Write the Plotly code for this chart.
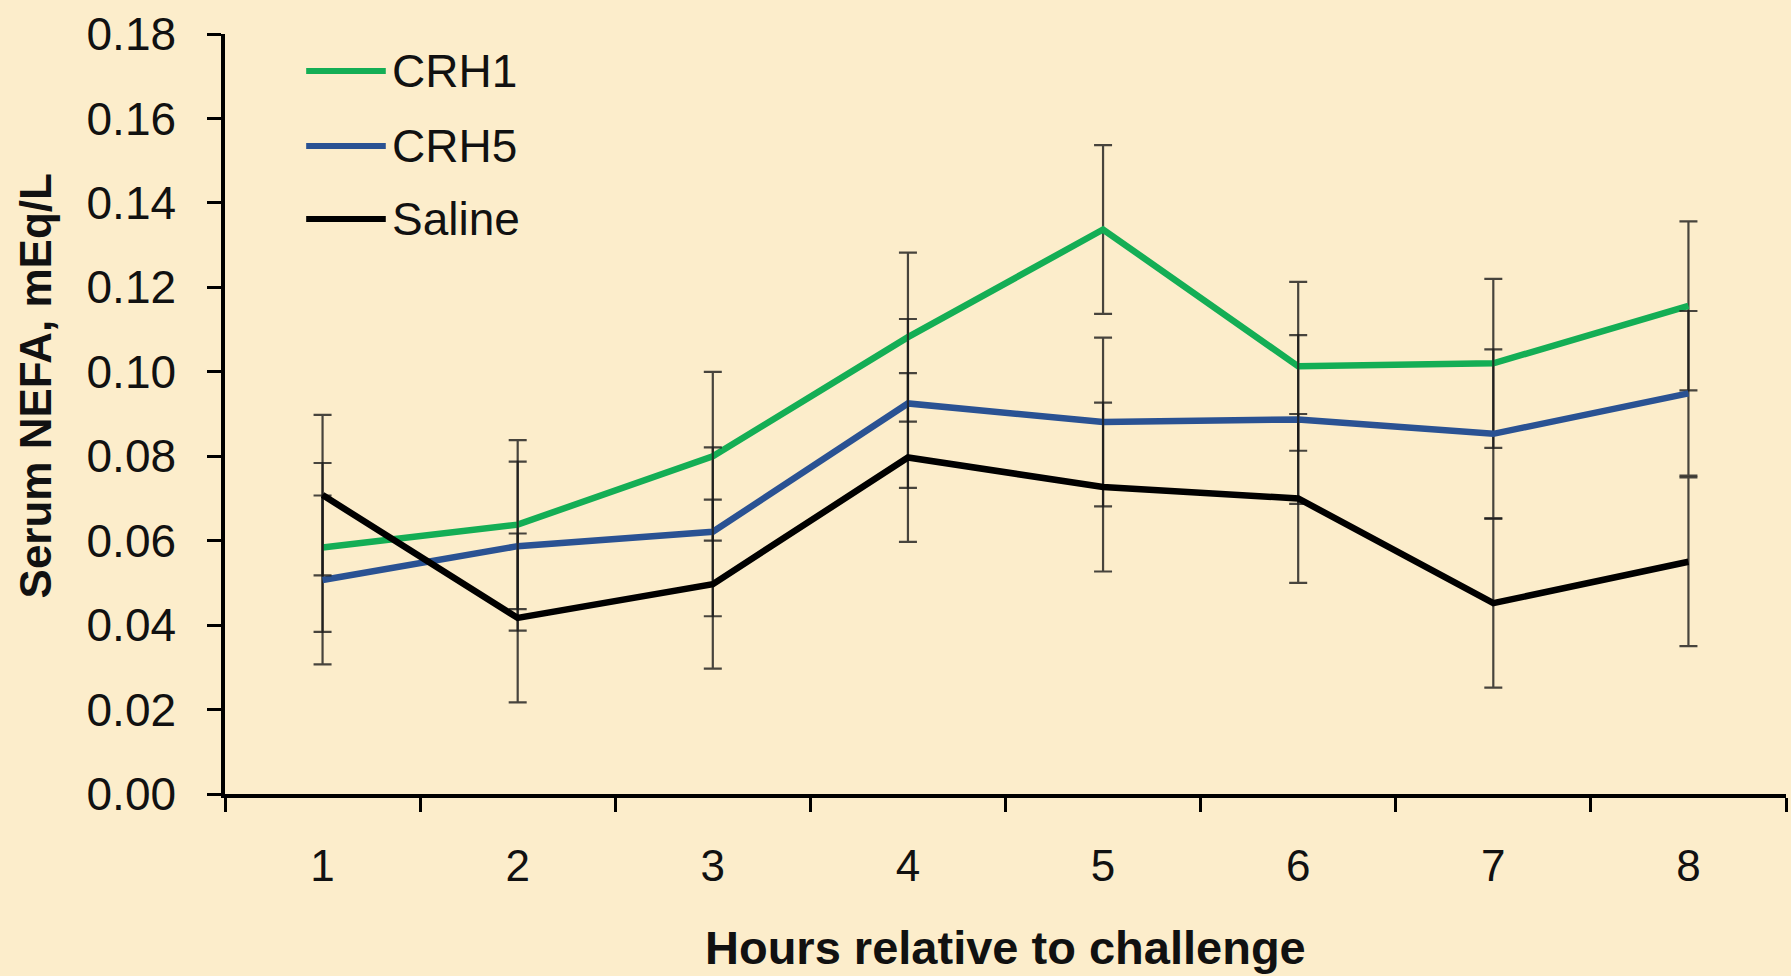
import plotly.graph_objects as go

hours = ["1", "2", "3", "4", "5", "6", "7", "8"]
y_ticks = [0.00, 0.02, 0.04, 0.06, 0.08, 0.10, 0.12, 0.14, 0.16, 0.18]

crh1 = [0.0584, 0.0638, 0.0800, 0.1082, 0.1337, 0.1013, 0.1020, 0.1156]
crh1_se = [0.020, 0.020, 0.020, 0.020, 0.020, 0.020, 0.020, 0.020]
crh5 = [0.0507, 0.0587, 0.0621, 0.0925, 0.0881, 0.0887, 0.0853, 0.0949]
crh5_se = [0.020, 0.020, 0.020, 0.020, 0.020, 0.020, 0.020, 0.0195]
saline = [0.0708, 0.0417, 0.0497, 0.0797, 0.0727, 0.0700, 0.0452, 0.0550]
saline_se = [0.019, 0.020, 0.020, 0.020, 0.020, 0.020, 0.020, 0.020]

series_names = ["CRH1", "CRH5", "Saline"]
series_colors = ["#14AE55", "#2A5293", "#000000"]

BG = "#FCEDCB"
FONT = "Liberation Sans, Arial, sans-serif"

fig = go.Figure()
for name, vals, se, col in zip(series_names, [crh1, crh5, saline],
                               [crh1_se, crh5_se, saline_se], series_colors):
    fig.add_trace(go.Scatter(
        x=hours, y=vals, name=name, mode="lines",
        line=dict(color=col, width=6.5),
        error_y=dict(type="data", array=se, visible=True,
                     color="rgba(25,25,25,0.8)", thickness=2.2, width=9),
        showlegend=False,
    ))

# manual legend (line sample + text)
leg_y = [0.9513, 0.8526, 0.7566]
for name, col, yy in zip(series_names, series_colors, leg_y):
    fig.add_shape(type="line", xref="paper", yref="paper",
                  x0=0.052, x1=0.103, y0=yy, y1=yy,
                  line=dict(color=col, width=6))
    fig.add_annotation(xref="paper", yref="paper", x=0.106, y=yy,
                       text=name, showarrow=False, xanchor="left",
                       yanchor="middle",
                       font=dict(family=FONT, size=46, color="#111111"))

fig.add_annotation(xref="paper", yref="paper", x=0.5, y=-0.2026,
                   text="<b>Hours relative to challenge</b>", showarrow=False,
                   xanchor="center", yanchor="middle",
                   font=dict(family=FONT, size=47, color="#111111"))
fig.add_annotation(xref="paper", yref="paper", x=-0.1211, y=0.5375,
                   text="<b>Serum NEFA, mEq/L</b>", showarrow=False,
                   textangle=-90, xanchor="center", yanchor="middle",
                   font=dict(family=FONT, size=44, color="#111111"))

fig.update_layout(
    width=1791, height=976,
    margin=dict(l=225, r=5, t=34, b=182),
    paper_bgcolor=BG, plot_bgcolor=BG,
    font=dict(family=FONT, size=46, color="#111111"),
    xaxis=dict(type="category", range=[-0.5, 7.5], tickson="boundaries",
               ticks="outside", ticklen=14, tickwidth=3, tickcolor="#000",
               showline=True, linecolor="#000", linewidth=3.5,
               showgrid=False, zeroline=False, ticklabelstandoff=30,
               automargin=False,
               tickfont=dict(family=FONT, size=44)),
    yaxis=dict(range=[0, 0.18], tickvals=y_ticks, tickformat=".2f",
               ticks="outside", ticklen=14, tickwidth=3, tickcolor="#000",
               showline=True, linecolor="#000", linewidth=3.5,
               showgrid=False, zeroline=False, ticklabelstandoff=22,
               automargin=False,
               tickfont=dict(family=FONT, size=46)),
)

fig.write_html(
    "out.html",
    config={"displayModeBar": False},
    post_script=("document.body.style.margin='0';"
                 "document.body.style.padding='0';"
                 "document.body.style.overflow='hidden';"
                 "document.body.style.background='" + BG + "';"),
)
